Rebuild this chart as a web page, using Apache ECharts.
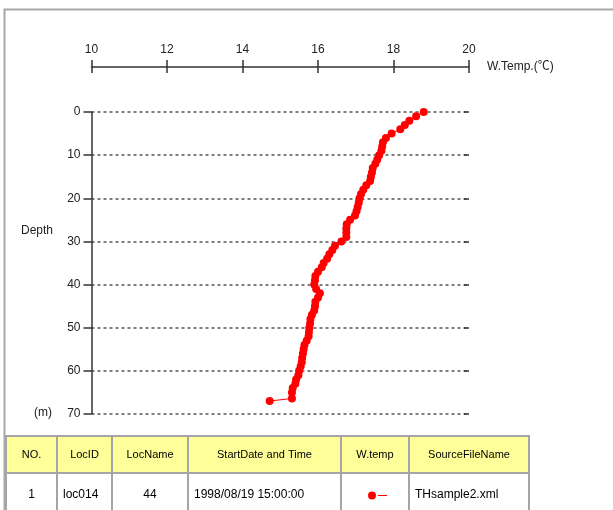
<!DOCTYPE html>
<html>
<head>
<meta charset="utf-8">
<script src="https://cdn.jsdelivr.net/npm/echarts@6/dist/echarts.min.js"></script>
<style>
html,body{margin:0;padding:0;background:#fff;}
#chart{width:613px;height:510px;}
</style>
</head>
<body>
<div id="chart"></div>
<script>
// ---- data ----
const depthValues = [0,1,2,3,4,5,6,7,8,9,10,11,12,13,14,15,16,17,18,19,20,21,22,23,24,25,26,27,28,29,30,31,32,33,34,35,36,37,38,39,40,41,42,43,44,45,46,47,48,49,50,51,52,53,54,55,56,57,58,59,60,61,62,63,64,65,66.4,67];
const tempValues = [18.80,18.60,18.42,18.30,18.18,17.95,17.80,17.72,17.70,17.68,17.62,17.57,17.52,17.45,17.43,17.40,17.38,17.28,17.20,17.14,17.10,17.08,17.05,17.02,16.98,16.85,16.76,16.75,16.75,16.75,16.62,16.45,16.38,16.30,16.24,16.15,16.10,16.00,15.93,15.92,15.90,15.95,16.05,16.00,15.93,15.92,15.90,15.84,15.80,15.79,15.77,15.76,15.75,15.70,15.64,15.62,15.60,15.58,15.57,15.54,15.50,15.48,15.42,15.40,15.33,15.31,15.31,14.72];
const xTicks = [10,12,14,16,18,20];
const yTicks = [0,10,20,30,40,50,60,70];
const seriesName = 'W.temp';
const tableHeaders = ['NO.','LocID','LocName','StartDate and Time','W.temp','SourceFileName'];
const tableRow = ['1','loc014','44','1998/08/19 15:00:00','','THsample2.xml'];

// ---- chart ----
const chart = echarts.init(document.getElementById('chart'), null, {renderer:'canvas'});
const FONT = "'Liberation Sans', 'Noto Sans CJK JP', sans-serif";
const seriesData = depthValues.map((d, i) => [tempValues[i], d]);

const colX = [6, 57, 112, 188, 341, 409, 529];
const tableTop = 436, headH = 37, rowH = 40;
const rowAlign = ['center','left','center','left','center','left'];
const graphics = [];
graphics.push({type:'rect', shape:{x:4.5, y:9.5, width:700, height:600}, style:{fill:'none', stroke:'#a8a8a8', lineWidth:2}, silent:true});
graphics.push({type:'text', left:21, top:225, style:{text:'Depth', fontSize:12, fontFamily:FONT, fill:'#222'}});
graphics.push({type:'text', left:34, top:407, style:{text:'(m)', fontSize:12, fontFamily:FONT, fill:'#222'}});
for (let i = 0; i < tableHeaders.length; i++) {
  const x0 = colX[i], w = colX[i+1] - colX[i];
  graphics.push({type:'rect', shape:{x:x0, y:tableTop, width:w, height:headH}, style:{fill:'#ffff99', stroke:'#a5a5a5', lineWidth:2}, z:1});
  graphics.push({type:'rect', shape:{x:x0, y:tableTop+headH, width:w, height:rowH}, style:{fill:'#ffffff', stroke:'#a5a5a5', lineWidth:2}, z:1});
  graphics.push({type:'text', x:x0 + w/2, y:tableTop + headH/2, style:{text:tableHeaders[i], fontSize:11, fontFamily:FONT, fill:'#000', align:'center', verticalAlign:'middle'}, z:2});
  const al = rowAlign[i];
  graphics.push({type:'text', x: al === 'center' ? x0 + w/2 : x0 + 6, y:tableTop + headH + 22, style:{text:tableRow[i], fontSize:12, fontFamily:FONT, fill:'#000', align:al, verticalAlign:'middle'}, z:2});
}

const axisCommonX = {
  type:'value', min:10, max:20, interval:2, position:'top', offset:45
};
const axisCommonY = {
  type:'value', min:0, max:70, interval:10, inverse:true
};

const option = {
  animation:false,
  backgroundColor:'#fff',
  grid:{left:91.5, right:144, top:112, bottom:96, containLabel:false},
  legend:{
    left:368, top:491.5, itemWidth:19, itemHeight:8, itemGap:0, padding:0,
    formatter:function(){return '';},
    selectedMode:false,
    data:[{name:seriesName, icon:'path://M4,0 A4,4 0 1 1 4,8 A4,4 0 1 1 4,0 Z M10,3.4 L19,3.4 L19,4.6 L10,4.6 Z'}]
  },
  xAxis:[
    Object.assign({}, axisCommonX, {
      name:'W.Temp.(℃)', nameLocation:'end', nameGap:18,
      nameTextStyle:{fontSize:12, fontFamily:FONT, color:'#222', padding:[0,0,12,0]},
      axisLine:{show:true, onZero:false, lineStyle:{color:'#333', width:1.5}},
      axisTick:{show:true, inside:false, length:7, lineStyle:{color:'#333', width:1.5}},
      axisLabel:{show:true, margin:11, fontSize:12, fontFamily:FONT, color:'#222',
        customValues: xTicks, formatter:v => String(v)},
      splitLine:{show:false}
    }),
    Object.assign({}, axisCommonX, {
      axisLine:{show:false, onZero:false},
      axisTick:{show:true, inside:true, length:6, lineStyle:{color:'#333', width:1.5}},
      axisLabel:{show:false},
      splitLine:{show:false}
    })
  ],
  yAxis:[
    Object.assign({}, axisCommonY, {
      axisLine:{show:true, onZero:false, lineStyle:{color:'#333', width:1.5}},
      axisTick:{show:true, inside:false, length:8, lineStyle:{color:'#333', width:1.5}},
      axisLabel:{show:true, margin:11, fontSize:12, fontFamily:FONT, color:'#222', formatter:v => String(v)},
      splitLine:{show:true, lineStyle:{color:'#555', width:1.5, type:[3,3]}}
    }),
    Object.assign({}, axisCommonY, {
      axisLine:{show:false, onZero:false},
      axisTick:{show:true, inside:true, length:5, lineStyle:{color:'#333', width:1.5}},
      axisLabel:{show:false},
      splitLine:{show:false}
    })
  ],
  series:[{
    name:seriesName, type:'line', xAxisIndex:0, yAxisIndex:0,
    data:seriesData, clip:false,
    symbol:'circle', symbolSize:8, showSymbol:true,
    lineStyle:{color:'#ff0000', width:1},
    itemStyle:{color:'#ff0000'},
    z:3
  }],
  graphic:graphics
};
chart.setOption(option);
</script>
</body>
</html>
